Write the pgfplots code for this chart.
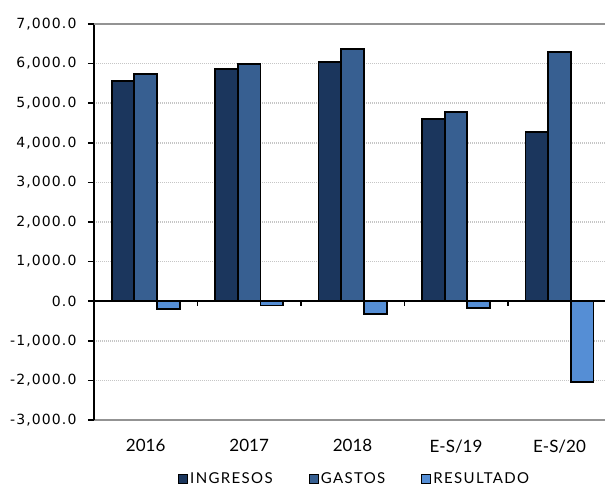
\documentclass[border=0pt]{standalone}
\usepackage{fontspec}
\setmainfont{Lato}
\newfontfamily\tickfont{DejaVu Sans}[LetterSpace=8]
\newfontfamily\legfont{Lato}[LetterSpace=9]
\usepackage{pgfplots}
\pgfplotsset{compat=1.18}
\definecolor{cIng}{RGB}{27,54,93}
\definecolor{cGas}{RGB}{55,95,145}
\definecolor{cRes}{RGB}{85,142,213}
\begin{document}
\begin{tikzpicture}
\begin{axis}[
  scale only axis, width=511pt, height=396pt,
  at={(0,0)}, anchor=south west,
  xmin=-0.5, xmax=4.44, ymin=-3000, ymax=7000,
  axis x line*=bottom, axis y line*=left,
  x axis line style={draw=gray!85, line width=1.8pt},
  y axis line style={draw=black, line width=1.8pt},
  xtick={0,1,2,3,4},
  xticklabels={2016,2017,2018,E-S/19,E-S/20},
  x tick style={draw=none},
  xticklabel style={font=\fontsize{17}{17}\selectfont, yshift=-10pt},
  ytick={-3000,-2000,...,7000},
  yticklabels={{-3,000.0},{-2,000.0},{-1,000.0},{0.0},{1,000.0},{2,000.0},{3,000.0},{4,000.0},{5,000.0},{6,000.0},{7,000.0}},
  y tick style={draw=black, line width=1.6pt},
  tick align=outside, major tick length=6pt,
  yticklabel style={font=\tickfont\fontsize{14}{14}\selectfont, xshift=-8pt},
  ymajorgrids,
  grid style={draw=gray!45, line width=1.5pt, dash pattern=on 1.2pt off 0.8pt},
  ybar=0pt, bar width=22.7pt,
  legend columns=3,
  legend style={draw=none, at={(0.51,-0.148)}, anchor=center,
    font=\legfont\fontsize{15}{15}\selectfont,
    nodes={inner sep=2pt},
    /tikz/every even column/.append style={column sep=34pt}},
  legend image code/.code={\draw[#1, draw=black, line width=1.2pt] (0pt,-4.5pt) rectangle (9pt,4.5pt);},
]
\addplot[fill=cIng, draw=black, line width=1.8pt] coordinates {(0,5561) (1,5864) (2,6048) (3,4593) (4,4273)};
\addplot[fill=cGas, draw=black, line width=1.8pt] coordinates {(0,5730) (1,5990) (2,6361) (3,4778) (4,6301)};
\addplot[fill=cRes, draw=black, line width=1.8pt] coordinates {(0,-190) (1,-110) (2,-330) (3,-170) (4,-2040)};
\legend{INGRESOS,GASTOS,RESULTADO}
\draw[gray!85, line width=1.8pt] (axis cs:-0.5,7000) -- (axis cs:4.44,7000);
\draw[black, line width=1.8pt] (axis cs:-0.5,0) -- (axis cs:4.44,0);
\pgfplotsinvokeforeach{0.5,1.5,2.5,3.5}{
  \draw[black, line width=1.5pt] (axis cs:#1,0) -- ([yshift=-5pt]axis cs:#1,0);
}
\end{axis}
\pgfresetboundingbox
\useasboundingbox (-94pt,-69pt) rectangle (511pt,420pt);
\end{tikzpicture}
\end{document}
